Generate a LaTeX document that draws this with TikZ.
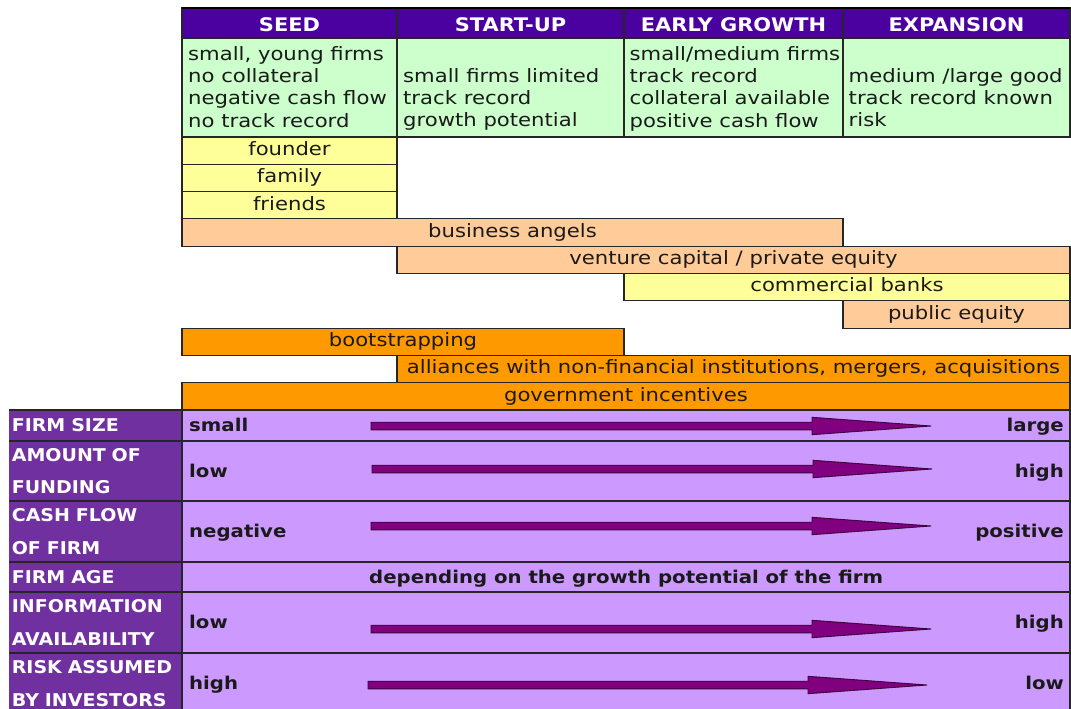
\documentclass[tikz,border=0pt]{standalone}
\usepackage{fontspec}
\setmainfont{DejaVu Sans}
\newfontfamily\bodyfont[FakeStretch=1.15]{DejaVu Sans}
\newfontfamily\headfont[FakeStretch=1.12]{DejaVu Sans}
\newfontfamily\labelfont[FakeStretch=1.08]{DejaVu Sans}
\usetikzlibrary{calc}

\definecolor{ink}{HTML}{1A1A1A}
\definecolor{rulec}{HTML}{262626}
\definecolor{stagebg}{HTML}{4B00A0}
\definecolor{traitbg}{HTML}{CCFFCC}
\definecolor{paleyellow}{HTML}{FFFF99}
\definecolor{peach}{HTML}{FFCC99}
\definecolor{amber}{HTML}{FF9900}
\definecolor{plum}{HTML}{7030A0}
\definecolor{lilac}{HTML}{CC99FF}
\definecolor{arrowfill}{HTML}{800080}
\definecolor{arrowedge}{HTML}{3A003A}

% block arrow from coordinate #1 to the tip at coordinate #2
\newcommand{\trendarrow}[2]{%
  \draw[trend] ($(#1)+(0,-3.8)$) -- ($(#2)+(-119,-3.8)$) -- ($(#2)+(-119,-8.7)$)
    -- (#2) -- ($(#2)+(-119,8.7)$) -- ($(#2)+(-119,3.8)$) -- ($(#1)+(0,3.8)$) -- cycle;}

\begin{document}
\begin{tikzpicture}[x=1pt,y=-1pt,
  cell/.style={draw=rulec,line width=1.1pt,anchor=north west,inner sep=0pt,outer sep=0pt},
  stage/.style={cell,fill=stagebg,text=white,minimum height=30pt,
    font=\headfont\bfseries\fontsize{18.7}{20}\selectfont,text height=16.5pt,text depth=0pt},
  trait/.style={cell,fill=traitbg,minimum height=99pt},
  traittext/.style={anchor=north west,inner sep=0pt,align=left,text=ink,
    font=\bodyfont\fontsize{18.4}{22.3}\selectfont},
  bar/.style={cell,minimum height=27.3pt,text=ink,font=\bodyfont\fontsize{18.4}{20}\selectfont,
    text height=13.7pt,text depth=4.2pt},
  rowlabel/.style={anchor=north west,inner xsep=2.8pt,inner ysep=0pt,outer sep=0pt,
    fill=plum,text=white,text width=167.4pt,align=left,
    font=\labelfont\bfseries\fontsize{17.6}{32.5}\selectfont},
  rowbody/.style={cell,fill=lilac,minimum width=888pt},
  value/.style={inner sep=0pt,text=ink,font=\headfont\bfseries\fontsize{17.6}{20}\selectfont},
  trend/.style={fill=arrowfill,draw=arrowedge,line width=0.9pt,line join=miter},
  sep/.style={draw=rulec,line width=1.1pt}
]
\useasboundingbox (0,0) rectangle (1071,709);
\clip (0,0) rectangle (1071,709);
\fill[white] (0,0) rectangle (1071,709);

% stage headings
\node[stage,minimum width=215pt] (s1) at (182,8) {SEED};
\node[stage,minimum width=227pt] (s2) at (397,8) {START-UP};
\node[stage,minimum width=219pt] (s3) at (624,8) {EARLY GROWTH};
\node[stage,minimum width=227pt] (s4) at (843,8) {EXPANSION};
\draw[draw=black,line width=2pt] (s1.north west) -- (s4.north east);

% firm characteristics per stage
\node[trait,minimum width=215pt] (g1) at (182,38) {};
\node[trait,minimum width=227pt] (g2) at (397,38) {};
\node[trait,minimum width=219pt] (g3) at (624,38) {};
\node[trait,minimum width=227pt] (g4) at (843,38) {};
\node[traittext] (t1) at (188,44.4) {\strut small, young firms\\no collateral\\negative cash flow\\no track record};
\node[traittext] (t2) at (403,66.4) {\strut small firms limited\\track record\\growth potential};
\node[traittext] (t3) at (629.5,44.4) {\strut small/medium firms\\track record\\collateral available\\positive cash flow};
\node[traittext] (t4) at (848.5,66.4) {\strut medium /large good\\track record known\\risk};

% sources of finance
\node[bar,fill=paleyellow,minimum width=215pt] (founder) at (182,137) {founder};
\node[bar,fill=paleyellow,minimum width=215pt] (family) at (182,164.3) {family};
\node[bar,fill=paleyellow,minimum width=215pt] (friends) at (182,191.6) {friends};
\node[bar,fill=peach,minimum width=661pt] (angels) at (182,218.9) {business angels};
\node[bar,fill=peach,minimum width=673pt] (venture) at (397,246.2) {venture capital / private equity};
\node[bar,fill=paleyellow,minimum width=446pt] (banks) at (624,273.5) {commercial banks};
\node[bar,fill=peach,minimum width=227pt] (public) at (843,300.8) {public equity};
\node[bar,fill=amber,minimum width=442pt] (boot) at (182,328.1) {bootstrapping};
\node[bar,fill=amber,minimum width=673pt] (alliances) at (397,355.4) {alliances with non-financial institutions, mergers, acquisitions};
\node[bar,fill=amber,minimum width=888pt] (govt) at (182,382.7) {government incentives};

% firm attributes
\node[rowlabel,minimum height=31pt] (l1) at (9,410) {FIRM SIZE};
\node[rowlabel,minimum height=60pt] (l2) at (9,441) {AMOUNT OF\\FUNDING};
\node[rowlabel,minimum height=61pt] (l3) at (9,501) {CASH FLOW\\OF FIRM};
\node[rowlabel,minimum height=30pt] (l4) at (9,562) {FIRM AGE};
\node[rowlabel,minimum height=61pt] (l5) at (9,592) {INFORMATION\\AVAILABILITY};
\node[rowlabel,minimum height=61pt] (l6) at (9,653) {RISK ASSUMED\\BY INVESTORS};

\node[rowbody,minimum height=31pt] (r1) at (182,410) {};
\node[rowbody,minimum height=60pt] (r2) at (182,441) {};
\node[rowbody,minimum height=61pt] (r3) at (182,501) {};
\node[rowbody,minimum height=30pt] (r4) at (182,562) {};
\node[rowbody,minimum height=61pt] (r5) at (182,592) {};
\node[rowbody,minimum height=61pt] (r6) at (182,653) {};

\foreach \l in {l1,l2,l3,l4,l5,l6}
  \draw[sep] (\l.north west) -- (\l.north east);

% attribute values
\node[value,anchor=base west] (v1a) at ($(r1.west)+(7,6)$) {small};
\node[value,anchor=base east] (v1b) at ($(r1.east)+(-6,6)$) {large};
\node[value,anchor=base west] (v2a) at ($(r2.west)+(7,6)$) {low};
\node[value,anchor=base east] (v2b) at ($(r2.east)+(-6,6)$) {high};
\node[value,anchor=base west] (v3a) at ($(r3.west)+(7,6)$) {negative};
\node[value,anchor=base east] (v3b) at ($(r3.east)+(-6,6)$) {positive};
\node[value,anchor=base west] (v4) at ($(r4.west)+(187,6)$) {depending on the growth potential of the firm};
\node[value,anchor=base west] (v5a) at ($(r5.west)+(7,6)$) {low};
\node[value,anchor=base east] (v5b) at ($(r5.east)+(-6,6)$) {high};
\node[value,anchor=base west] (v6a) at ($(r6.west)+(7,6)$) {high};
\node[value,anchor=base east] (v6b) at ($(r6.east)+(-6,6)$) {low};

% trend arrows
\coordinate (a1s) at (371,426);   \coordinate (a1e) at (931,426);
\coordinate (a2s) at (372,469);   \coordinate (a2e) at (932,469);
\coordinate (a3s) at (371,526);   \coordinate (a3e) at (931,526);
\coordinate (a5s) at (371,629);   \coordinate (a5e) at (931,629);
\coordinate (a6s) at (368,685);   \coordinate (a6e) at (927,685);
\trendarrow{a1s}{a1e}
\trendarrow{a2s}{a2e}
\trendarrow{a3s}{a3e}
\trendarrow{a5s}{a5e}
\trendarrow{a6s}{a6e}
\end{tikzpicture}
\end{document}
